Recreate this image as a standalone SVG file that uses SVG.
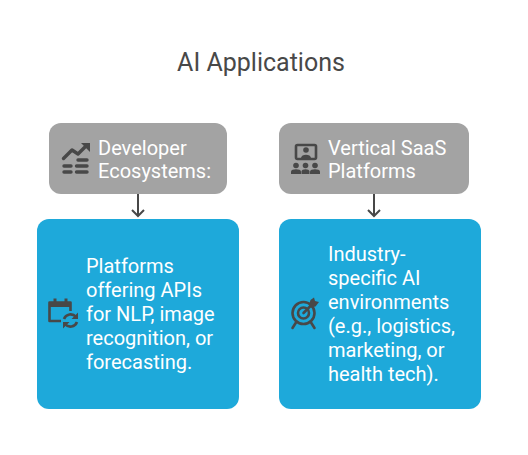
<svg xmlns="http://www.w3.org/2000/svg" width="528" height="455" viewBox="0 0 528 455">
<style>
.t{font-family:Roboto,"Liberation Sans",sans-serif;font-size:20px;font-weight:400;fill:#fff}
.title{font-family:Roboto,"Liberation Sans",sans-serif;font-size:25px;fill:#484848}
.g{fill:#a3a3a3}
.b{fill:#1ea9da}
.ln{fill:none;stroke:#484848;stroke-width:2}
.ic{fill:none;stroke:#484848;stroke-width:2.600;stroke-linejoin:round}
.thick{stroke-width:3.400;stroke-linecap:round}
.ib{fill:#484848}
</style>
<rect width="528" height="455" fill="#fff"/>
<text class="title" x="261" y="71" text-anchor="middle">AI Applications</text>
<g id="connectors">
<path class="ln" d="M138 194V216M132 210L138 216L144 210"/>
<path class="ln" d="M374 194V216M368 210L374 216L380 210"/>
</g>
<g id="node-developer">
<rect class="g" x="49" y="123" width="178" height="71" rx="12"/>
<path class="ic thick" d="M63.500 158.500L72 150L78 154L87 145"/>
<path class="ib" d="M81 143H90V152Z"/>
<path class="ic thick" d="M78 160H87M64 166H71M76.500 166H87M64 172H71M76.500 172H87"/>
<text class="t"><tspan x="98" y="155">Developer</tspan><tspan x="98" y="178">Ecosystems:</tspan></text>
</g>
<g id="node-vertical">
<rect class="g" x="279" y="123" width="190" height="71" rx="12"/>
<rect class="ic" x="296" y="145" width="20" height="14" rx="1.500"/>
<circle class="ib" cx="306" cy="150" r="2.800"/>
<path class="ib" d="M301 158C301 153.500 311 153.500 311 158Z"/>
<g class="ib">
<circle cx="296" cy="165.500" r="2.800"/><path d="M291 174V171.500C291 168.500 301 168.500 301 171.500V174Z"/>
<circle cx="305.500" cy="165.500" r="2.800"/><path d="M301.500 174V171.500C301.500 168.500 309.500 168.500 309.500 171.500V174Z"/>
<circle cx="315" cy="165.500" r="2.800"/><path d="M310 174V171.500C310 168.500 320 168.500 320 171.500V174Z"/>
</g>
<text class="t"><tspan x="328" y="155">Vertical SaaS</tspan><tspan x="328" y="178">Platforms</tspan></text>
</g>
<g id="node-platforms">
<rect class="b" x="37" y="219" width="202" height="190" rx="12"/>
<path class="ic" d="M61 321H49.500V302.500H70.500V311"/>
<path class="ib" d="M49 302H71V307H49ZM53.500 298.500H56.500V303H53.500ZM64.500 298.500H67.500V303H64.500Z"/>
<path class="ic" d="M64 319A7 7 0 0 1 76 317M77 322A7 7 0 0 1 65 324"/>
<path class="ib" d="M78 312.500V319H71.500ZM63 328.500V322H69.500Z"/>
<text class="t"><tspan x="86" y="273">Platforms</tspan><tspan x="86" y="297">offering APIs</tspan><tspan x="86" y="321">for NLP, image</tspan><tspan x="86" y="345">recognition, or</tspan><tspan x="86" y="369">forecasting.</tspan></text>
</g>
<g id="node-industry">
<rect class="b" x="279" y="219" width="202" height="190" rx="12"/>
<circle class="ic" cx="303.500" cy="313" r="11"/>
<circle class="ic" cx="303.500" cy="313" r="5.500"/>
<path class="ic" stroke-linecap="round" d="M303.500 313L313 303.500M296 322.500L292.500 328M311 322.500L314.500 328"/>
<path class="ib" d="M309 305L310.500 300L314 297.500L315 301L319 302L315.500 306.500L311 307.500Z"/>
<text class="t"><tspan x="328" y="261">Industry-</tspan><tspan x="328" y="285">specific AI</tspan><tspan x="328" y="309">environments</tspan><tspan x="328" y="333">(e.g., logistics,</tspan><tspan x="328" y="357">marketing, or</tspan><tspan x="328" y="381">health tech).</tspan></text>
</g>
</svg>
